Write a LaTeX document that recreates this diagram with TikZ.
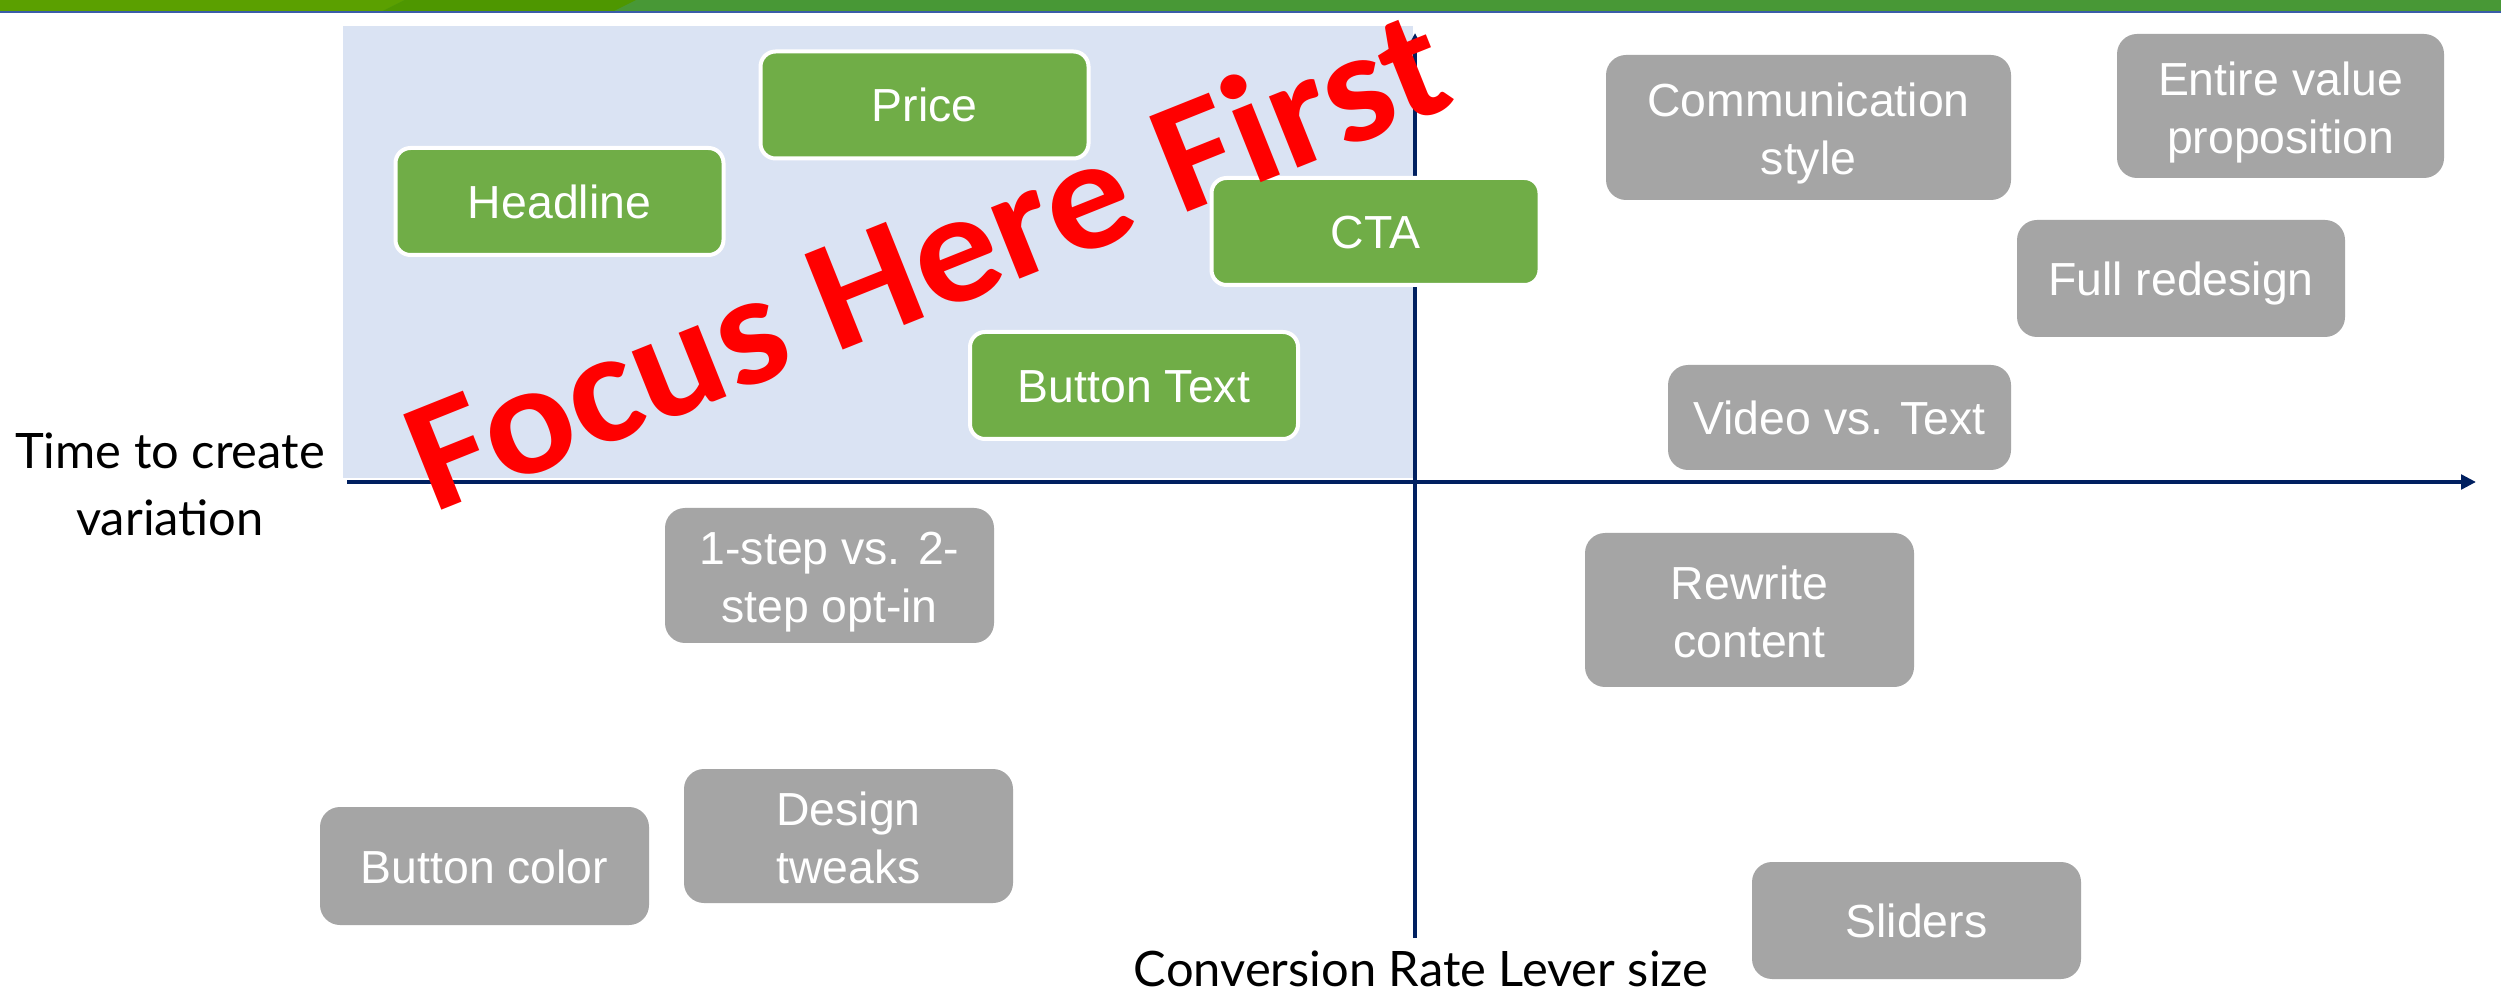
\documentclass[tikz,border=0pt]{standalone}
\usepackage{fontspec}
\usetikzlibrary{arrows.meta}
\newfontfamily\boxfam{Liberation Sans}
\newfontfamily\latofam{Lato}
\newfontfamily\carlfam{Carlito}
\newcommand{\mytwolines}[2]{\begin{tabular}[t]{@{}c@{}}#1\\#2\end{tabular}}
\definecolor{barA}{HTML}{5BA000}
\definecolor{barB}{HTML}{4E9700}
\definecolor{barC}{HTML}{489836}
\definecolor{barLine}{HTML}{3A5DA8}
\definecolor{lightblue}{HTML}{DAE3F3}
\definecolor{boxgreen}{HTML}{70AD47}
\definecolor{boxgray}{HTML}{A5A5A5}
\definecolor{axisnavy}{HTML}{002060}
\definecolor{focusred}{HTML}{FF0000}
\tikzset{
  boxtext/.style={inner sep=0pt, text=white, font=\boxfam\fontsize{13.2}{16.5}\selectfont,
    text height=3.4mm, text depth=0mm},
  gbox/.style={boxtext, draw=white, line width=0.4mm, fill=boxgreen, rounded corners=1.5mm,
    minimum width=32.8mm, minimum height=10.7mm},
  ybox/.style={boxtext, fill=boxgray, rounded corners=2mm},
  twoline/.style={text height=3mm, text depth=5.1mm},
  axislabel/.style={inner sep=0pt, text=black, font=\latofam\fontsize{13.9}{19.07}\selectfont, align=center},
  axisline/.style={draw=axisnavy, line width=0.4mm, -{Triangle[length=1.5mm,width=1.45mm]}},
}
\begin{document}
\begin{tikzpicture}[x=0.1mm, y=-0.1mm]
\useasboundingbox (0,0) rectangle (2501,993);
\fill[white] (0,0) rectangle (2501,993);
% top bar
\fill[barC] (0,0) rectangle (2501,11);
\fill[barA] (0,0) -- (405,0) -- (383,11) -- (0,11) -- cycle;
\fill[barB] (405,0) -- (636,0) -- (614,11) -- (383,11) -- cycle;
\fill[barLine] (0,11) rectangle (2501,13.5);
% focus area
\fill[lightblue] (343,26) rectangle (1413,478);
% axes
\coordinate (xstart) at (347,482);
\coordinate (xend) at (2476,482);
\coordinate (ystart) at (1415,938);
\coordinate (yend) at (1415,33);
\draw[axisline] (xstart) -- (xend);
\draw[axisline] (ystart) -- (yend);
% axis labels
\node[axislabel] (ylab) at (170,484) {Time to create\\variation};
\node[axislabel, anchor=base] (xlab) at (1421,986) {Conversion Rate Lever size};
% green boxes
\node[gbox] (price) at (924.5,105) {Price};
\node[gbox] (headline) at (559.5,201.5) {Headline};
\node[gbox] (cta) at (1375.5,231.5) {CTA};
\node[gbox] (buttontext) at (1134,385.5) {Button Text};
% gray boxes
\node[ybox, twoline, minimum width=40.5mm, minimum height=14.5mm] (comm) at (1808.5,127.5) {\mytwolines{Communication}{style}};
\node[ybox, twoline, minimum width=32.7mm, minimum height=14.4mm] (entire) at (2280.5,106) {\mytwolines{Entire value}{proposition}};
\node[ybox, minimum width=32.8mm, minimum height=11.7mm] (full) at (2181,278.5) {Full redesign};
\node[ybox, minimum width=34.3mm, minimum height=10.5mm] (video) at (1839.5,417.5) {Video vs. Text};
\node[ybox, twoline, minimum width=32.9mm, minimum height=13.5mm] (onestep) at (829.5,575.5) {\mytwolines{1-step vs. 2-}{step opt-in}};
\node[ybox, twoline, minimum width=32.9mm, minimum height=15.4mm] (rewrite) at (1749.5,610) {\mytwolines{Rewrite}{content}};
\node[ybox, minimum width=32.9mm, minimum height=11.8mm] (buttoncolor) at (484.5,866) {Button color};
\node[ybox, twoline, minimum width=32.9mm, minimum height=13.4mm] (design) at (848.5,836) {\mytwolines{Design}{tweaks}};
\node[ybox, minimum width=32.9mm, minimum height=11.7mm] (sliders) at (1916.5,920.5) {Sliders};
% overlay text
\node[inner sep=0pt, anchor=base, rotate=21.8, xscale=1.065, text=focusred,
  font=\carlfam\bfseries\fontsize{45}{50}\selectfont] (focus) at (946,309) {Focus Here First};
\end{tikzpicture}
\end{document}
